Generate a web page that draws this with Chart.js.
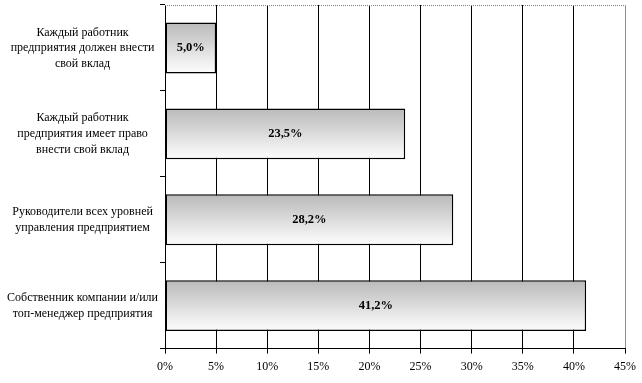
<!DOCTYPE html>
<html><head><meta charset="utf-8">
<script src="https://cdn.jsdelivr.net/npm/chart.js@4/dist/chart.umd.min.js"></script>
<style>html,body{margin:0;padding:0;background:#fff}#w{width:642px;height:383px}</style>
</head><body><div id="w"><canvas id="c"></canvas></div>
<script>
const categories = [
  ["Каждый работник", "предприятия должен внести", "свой вклад"],
  ["Каждый работник", "предприятия имеет право", "внести свой вклад"],
  ["Руководители всех уровней", "управления предприятием"],
  ["Собственник компании и/или", "топ-менеджер предприятия"]
];
const values = [5.0, 23.5, 28.2, 41.2];
const xTicks = [0, 5, 10, 15, 20, 25, 30, 35, 40, 45];

const FONT = "'Liberation Serif', 'Times New Roman', serif";
const BAR_PCT = 0.593;

const frame = {
  id: 'frame',
  beforeDatasetsDraw(chart) {
    const {ctx, chartArea: a} = chart;
    ctx.save();
    ctx.strokeStyle = '#808080';
    ctx.lineWidth = 1;
    ctx.setLineDash([1, 1]);
    ctx.beginPath();
    ctx.moveTo(a.left, a.top + 0.5);
    ctx.lineTo(a.right, a.top + 0.5);
    ctx.stroke();
    ctx.restore();
    // vertical gradient fill per bar, based on each bar element's own geometry
    chart.getDatasetMeta(0).data.forEach(bar => {
      const top = bar.y - bar.height / 2, bot = bar.y + bar.height / 2;
      if (!isFinite(top) || !isFinite(bot)) return;
      const g = ctx.createLinearGradient(0, top, 0, bot);
      g.addColorStop(0, '#bababa');
      g.addColorStop(0.3, '#cdcdcd');
      g.addColorStop(0.55, '#dfdfdf');
      g.addColorStop(0.8, '#f1f1f1');
      g.addColorStop(1, '#fcfcfc');
      bar.options = Object.assign({}, bar.options, {backgroundColor: g});
    });
  },
  afterDatasetsDraw(chart) {
    const {ctx} = chart;
    const meta = chart.getDatasetMeta(0);
    ctx.save();
    ctx.font = "bold 12.5px " + FONT;
    ctx.fillStyle = '#000';
    ctx.textAlign = 'center';
    ctx.textBaseline = 'middle';
    meta.data.forEach((bar, i) => {
      const v = chart.data.datasets[0].data[i];
      const x = (bar.x + bar.base) / 2;
      ctx.fillText(v.toFixed(1).replace('.', ',') + '%', x, bar.y);
    });
    ctx.restore();
  }
};

new Chart(document.getElementById('c'), {
  type: 'bar',
  data: {
    labels: categories,
    datasets: [{
      data: values,
      backgroundColor: () => '#d0d0d0',
      borderColor: '#000',
      borderWidth: 1.5,
      borderSkipped: false,
      categoryPercentage: 1,
      barPercentage: BAR_PCT
    }]
  },
  options: {
    indexAxis: 'y',
    responsive: true,
    maintainAspectRatio: false,
    animation: false,
    layout: {padding: {top: 5, right: 17, left: 0, bottom: 3}},
    plugins: {legend: {display: false}, tooltip: {enabled: false}},
    scales: {
      x: {
        min: 0, max: 45,
        afterBuildTicks(scale) { scale.ticks = xTicks.map(v => ({value: v})); },
        ticks: {
          callback: v => v + '%',
          color: '#000',
          font: {family: FONT, size: 12},
          padding: 6,
          maxRotation: 0
        },
        grid: {
          color: c => (c.tick && c.tick.value === 45) ? '#909090' : '#000',
          lineWidth: 1,
          drawTicks: true,
          tickLength: 5,
          tickColor: '#000'
        },
        border: {display: true, color: '#000', width: 1}
      },
      y: {
        afterFit(scale) { scale.width = 165; scale.paddingTop = 0; scale.paddingBottom = 0; },
        ticks: {
          color: '#000',
          font: {family: FONT, size: 12, lineHeight: 1.3},
          crossAlign: 'center',
          padding: 2
        },
        grid: {
          offset: true,
          drawOnChartArea: false,
          drawTicks: true,
          tickLength: 5,
          color: '#000'
        },
        border: {display: true, color: '#000', width: 1}
      }
    }
  },
  plugins: [frame]
});
</script>
</body></html>
